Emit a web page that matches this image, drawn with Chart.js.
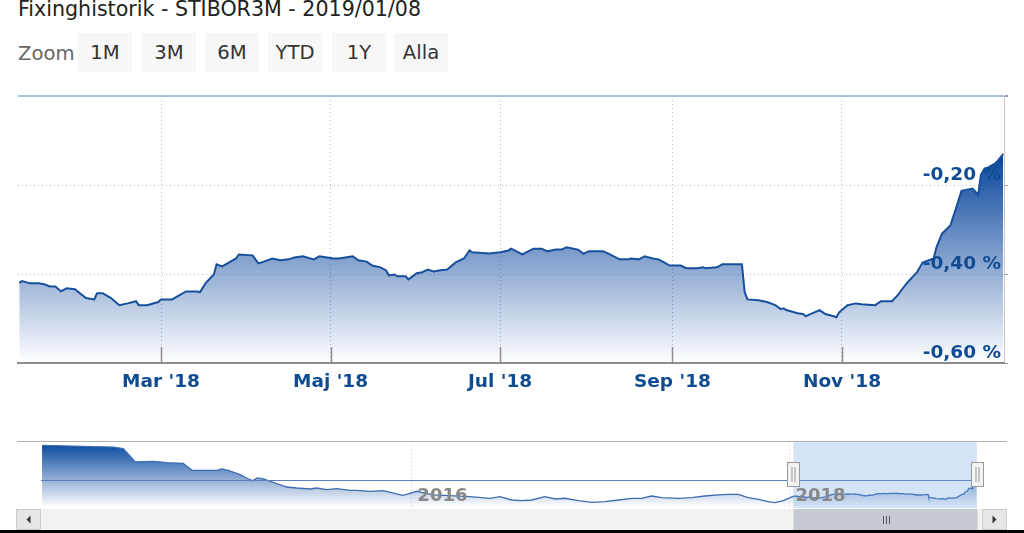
<!DOCTYPE html>
<html>
<head>
<meta charset="utf-8">
<script src="https://cdn.jsdelivr.net/npm/chart.js@4.4.1/dist/chart.umd.min.js"></script>
<style>
  html, body { margin: 0; padding: 0; background: #fff; width: 1024px; height: 533px; overflow: hidden; font-family: "DejaVu Sans", sans-serif; }
  #title { position: absolute; left: 18px; top: -3px; font-size: 20.6px; color: #222; white-space: nowrap; }
  #zoomlbl { position: absolute; left: 18px; top: 42px; font-size: 19.6px; color: #666; }
  .btn { position: absolute; top: 33px; width: 54px; height: 39px; line-height: 39px; text-align: center; background: #f7f7f7; color: #333; font-size: 19.6px; }
  #main { position: absolute; left: 0; top: 88px; }
  #nav { position: absolute; left: 0; top: 436px; }
  #edge { position: absolute; left: 0; top: 530px; width: 1024px; height: 3px; background: #000; }
</style>
</head>
<body>
<div id="title">Fixinghistorik - STIBOR3M - 2019/01/08</div>
<div id="zoomlbl">Zoom</div>
<div class="btn" style="left:78px">1M</div>
<div class="btn" style="left:142px">3M</div>
<div class="btn" style="left:205px">6M</div>
<div class="btn" style="left:268px">YTD</div>
<div class="btn" style="left:332px">1Y</div>
<div class="btn" style="left:394px">Alla</div>
<canvas id="main" width="1024" height="312"></canvas>
<canvas id="nav" width="1024" height="94"></canvas>
<div id="edge"></div>
<script>
// days are counted from 2018-01-01 (day 0)
var mainDays = [
  8, 9, 12, 15, 17, 19, 21, 23, 25, 28,
  32, 35, 36, 38, 41, 44, 47, 50, 51, 54,
  58, 59, 63, 68, 72, 73, 75, 78, 79, 81,
  84, 86, 87, 92, 94, 96, 99, 102, 105, 107,
  110, 114, 116, 121, 123, 128, 130, 133, 135, 138,
  140, 141, 143, 144, 147, 148, 150, 151, 153, 155,
  157, 159, 162, 165, 168, 170, 171, 177, 181, 184,
  185, 189, 193, 196, 198, 201, 203, 205, 209, 211,
  213, 218, 220, 224, 227, 228, 231, 233, 236, 238,
  240, 242, 246, 248, 252, 254, 255, 259, 261, 264,
  268, 269, 270, 274, 277, 280, 282, 283, 284, 288,
  290, 291, 292, 296, 298, 301, 302, 303, 306, 309,
  311, 316, 318, 322, 324, 327, 328, 331, 333, 337,
  338, 340, 343, 345, 347, 351, 352, 353, 354, 355,
  359, 360, 362
];
var mainRates = [
  -0.420, -0.416, -0.421, -0.421, -0.423, -0.428, -0.428, -0.439, -0.432, -0.434,
  -0.454, -0.457, -0.443, -0.443, -0.454, -0.470, -0.466, -0.461, -0.470, -0.470,
  -0.463, -0.457, -0.457, -0.439, -0.439, -0.441, -0.421, -0.401, -0.378, -0.383,
  -0.372, -0.365, -0.356, -0.358, -0.376, -0.372, -0.365, -0.369, -0.367, -0.363,
  -0.360, -0.367, -0.360, -0.365, -0.365, -0.360, -0.369, -0.372, -0.381, -0.385,
  -0.392, -0.403, -0.401, -0.405, -0.405, -0.412, -0.403, -0.398, -0.396, -0.390,
  -0.394, -0.392, -0.390, -0.374, -0.365, -0.347, -0.351, -0.354, -0.351, -0.347,
  -0.343, -0.356, -0.343, -0.343, -0.349, -0.345, -0.345, -0.340, -0.345, -0.354,
  -0.349, -0.349, -0.354, -0.367, -0.367, -0.365, -0.367, -0.360, -0.365, -0.367,
  -0.374, -0.381, -0.381, -0.387, -0.387, -0.385, -0.387, -0.385, -0.378, -0.378,
  -0.378, -0.441, -0.457, -0.459, -0.463, -0.470, -0.479, -0.477, -0.481, -0.488,
  -0.490, -0.495, -0.492, -0.481, -0.490, -0.495, -0.497, -0.486, -0.470, -0.466,
  -0.468, -0.470, -0.461, -0.461, -0.448, -0.423, -0.416, -0.396, -0.374, -0.365,
  -0.340, -0.309, -0.291, -0.253, -0.213, -0.208, -0.215, -0.222, -0.177, -0.166,
  -0.152, -0.146, -0.130
];
// older history, only in the navigator
var histDays = [
  -1445, -1307, -1288, -1275, -1265, -1230, -1204, -1172, -1165, -1155,
  -1107, -1098, -1085, -1062, -1046, -1038, -1029, -1017, -998, -972,
  -953, -927, -914, -895, -875, -850, -837, -811, -785, -760,
  -747, -737, -721, -689, -618, -579, -560, -537, -518, -498,
  -473, -453, -434, -408, -382, -357, -331, -305, -286, -267,
  -247, -215, -189, -164, -138, -118, -99, -80, -60, -41,
  -28, -12
];
var histRates = [
  0.922, 0.877, 0.833, 0.640, 0.482, 0.501, 0.464, 0.448, 0.369, 0.264,
  0.264, 0.298, 0.264, 0.148, 0.034, -0.011, 0.061, 0.034, -0.053, -0.177,
  -0.203, -0.229, -0.203, -0.248, -0.221, -0.264, -0.264, -0.290, -0.274, -0.361,
  -0.395, -0.361, -0.290, -0.387, -0.432, -0.474, -0.432, -0.519, -0.538, -0.519,
  -0.432, -0.493, -0.474, -0.538, -0.580, -0.564, -0.519, -0.474, -0.474, -0.414,
  -0.458, -0.474, -0.458, -0.414, -0.387, -0.369, -0.369, -0.458, -0.501, -0.564,
  -0.590, -0.538
];
var xTickDays = [59, 120, 181, 243, 304];
var xTickLabels = ["Mar '18", "Maj '18", "Jul '18", "Sep '18", "Nov '18"];
var yTickValues = [-0.6, -0.4, -0.2, 0];
var yTickLabels = ["-0,60 %", "-0,40 %", "-0,20 %", ""];
var navTickDays = [-731, 0];
var navTickLabels = ["2016", "2018"];
var viewMin = 7.55, viewMax = 362.3;
var navMin = -1447, navMax = 362.5;

Chart.defaults.font.family = "'DejaVu Sans', sans-serif";

function fillGradient(chart, values, rgb) {
  var ca = chart.chartArea;
  if (!ca) return "rgba(" + rgb + ",0.5)";
  var top = chart.scales.y.getPixelForValue(Math.max.apply(null, values));
  var g = chart.ctx.createLinearGradient(0, top, 0, ca.bottom);
  g.addColorStop(0, "rgba(" + rgb + ",1)");
  g.addColorStop(1, "rgba(" + rgb + ",0)");
  return g;
}

// short solid ticks inside the plot, at the bottom
var mainTicks = {
  id: "mainTicks",
  afterDatasetsDraw: function (chart) {
    var ctx = chart.ctx, ca = chart.chartArea, x = chart.scales.x;
    ctx.save();
    ctx.strokeStyle = "#8c8c8c";
    ctx.lineWidth = 1.5;
    xTickDays.forEach(function (d) {
      var px = Math.round(x.getPixelForValue(d)) + 0.5;
      ctx.beginPath();
      ctx.moveTo(px, ca.bottom - 16);
      ctx.lineTo(px, ca.bottom);
      ctx.stroke();
    });
    ctx.restore();
  }
};

var ctxMain = document.getElementById("main").getContext("2d");
var mainChart = new Chart(ctxMain, {
  type: "line",
  data: {
    datasets: [
      {
        data: mainDays.map(function (d, i) { return { x: d, y: mainRates[i] }; }),
        borderColor: "#174f9c",
        borderWidth: 2,
        pointRadius: 0,
        tension: 0,
        fill: "start",
        backgroundColor: function (c) { return fillGradient(c.chart, mainRates, "8,68,156"); },
      },
    ],
  },
  options: {
    responsive: false,
    animation: false,
    events: [],
    devicePixelRatio: 1,
    layout: { padding: { left: 18, right: 14, top: 1, bottom: 7 } },
    plugins: { legend: { display: false }, tooltip: { enabled: false } },
    scales: {
      x: {
        type: "linear",
        min: viewMin,
        max: viewMax,
        afterBuildTicks: function (s) { s.ticks = xTickDays.map(function (v) { return { value: v }; }); },
        afterFit: function (s) { s.height = 30; },
        grid: { color: "#a5b8d6", lineWidth: 1, drawTicks: false },
        border: { display: true, color: "#8c8c8c", width: 2, dash: [1, 3], z: 1 },
        ticks: {
          autoSkip: false,
          maxRotation: 0,
          padding: 8,
          color: "#0f4c92",
          font: { size: 18.5, weight: "bold" },
          callback: function (v) { return xTickLabels[xTickDays.indexOf(v)]; },
        },
      },
      y: {
        position: "right",
        min: -0.6,
        max: 0,
        afterBuildTicks: function (s) { s.ticks = yTickValues.map(function (v) { return { value: v }; }); },
        afterFit: function (s) { s.width = 6; },
        grid: {
          color: function (c) {
            if (c.tick.value === 0) return "#a9c0e0";
            if (c.tick.value === -0.6) return "rgba(0,0,0,0)";
            return "#a5b8d6";
          },
          lineWidth: function (c) { return c.tick.value === 0 ? 2 : 1; },
          tickColor: "#999",
          tickLength: 4,
          drawTicks: true,
        },
        border: {
          display: true,
          color: "#c4c4c4",
          width: 1,
          dash: function (c) { return c.tick && c.tick.value === 0 ? [] : [1, 3]; },
        },
        ticks: {
          mirror: true,
          padding: -3,
          labelOffset: -10,
          z: 1,
          color: "#0f4c92",
          font: { size: 18.5, weight: "bold" },
          callback: function (v) { return yTickLabels[yTickValues.indexOf(v)]; },
        },
      },
    },
  },
  plugins: [mainTicks],
});

// navigator: zero line, selected zone, handles, outline and scrollbar
var navDecor = {
  id: "navDecor",
  afterDatasetsDraw: function (chart) {
    var ctx = chart.ctx, ca = chart.chartArea, x = chart.scales.x, y = chart.scales.y;
    var y0 = Math.round(y.getPixelForValue(0)) + 0.5;
    ctx.save();
    ctx.strokeStyle = "#5b80bf";
    ctx.lineWidth = 1;
    ctx.beginPath();
    ctx.moveTo(ca.left, y0);
    ctx.lineTo(ca.right, y0);
    ctx.stroke();
    var x1 = x.getPixelForValue(viewMin), x2 = x.getPixelForValue(viewMax);
    ctx.fillStyle = "rgba(102,153,222,0.28)";
    ctx.fillRect(x1, ca.top, x2 - x1, ca.bottom + 1 - ca.top);
    ctx.restore();
  },
  afterDraw: function (chart) {
    var ctx = chart.ctx, ca = chart.chartArea, x = chart.scales.x;
    var x1 = Math.round(x.getPixelForValue(viewMin)) + 0.5;
    var x2 = Math.round(x.getPixelForValue(viewMax)) + 0.5;
    ctx.save();
    // outline
    ctx.strokeStyle = "#b0b0b0";
    ctx.lineWidth = 1;
    ctx.beginPath();
    ctx.moveTo(17, ca.top + 0.5);
    ctx.lineTo(1007, ca.top + 0.5);
    ctx.stroke();
    // scrollbar
    var sbTop = 73, sbH = 21;
    ctx.fillStyle = "#f2f2f2";
    ctx.fillRect(16, sbTop, 991, sbH);
    [16, 982].forEach(function (bx, i) {
      ctx.fillStyle = "#e6e6e6";
      ctx.fillRect(bx, sbTop, 25, sbH);
      ctx.strokeStyle = "#cccccc";
      ctx.strokeRect(bx + 0.5, sbTop + 0.5, 24, sbH - 1);
      ctx.fillStyle = "#333";
      ctx.beginPath();
      var cx = bx + 12.5, cy = sbTop + sbH / 2;
      if (i === 0) { ctx.moveTo(cx - 2, cy); ctx.lineTo(cx + 2, cy - 4); ctx.lineTo(cx + 2, cy + 4); }
      else { ctx.moveTo(cx + 2, cy); ctx.lineTo(cx - 2, cy - 4); ctx.lineTo(cx - 2, cy + 4); }
      ctx.closePath();
      ctx.fill();
    });
    ctx.fillStyle = "#c5cad2";
    ctx.fillRect(x1, sbTop, x2 - x1, sbH);
    ctx.strokeStyle = "#555";
    var mid = Math.round((x1 + x2) / 2) + 0.5;
    [-3, 0, 3].forEach(function (o) {
      ctx.beginPath();
      ctx.moveTo(mid + o, sbTop + 7);
      ctx.lineTo(mid + o, sbTop + 15);
      ctx.stroke();
    });
    // handles
    [x1, x2].forEach(function (hx) {
      ctx.fillStyle = "#f2f2f2";
      ctx.strokeStyle = "#999";
      ctx.fillRect(hx - 6, 26.5, 12, 24);
      ctx.strokeRect(hx - 6, 26.5, 12, 24);
      ctx.beginPath();
      ctx.moveTo(hx - 1.5, 31);
      ctx.lineTo(hx - 1.5, 46);
      ctx.moveTo(hx + 1.5, 31);
      ctx.lineTo(hx + 1.5, 46);
      ctx.stroke();
    });
    ctx.restore();
  }
};

var navDays = histDays.concat(mainDays);
var navRates = histRates.concat(mainRates);
var ctxNav = document.getElementById("nav").getContext("2d");
var navChart = new Chart(ctxNav, {
  type: "line",
  data: {
    datasets: [
      {
        data: navDays.map(function (d, i) { return { x: d, y: navRates[i] }; }),
        borderColor: "#3e6db0",
        borderWidth: 1.3,
        pointRadius: 0,
        tension: 0,
        fill: "start",
        backgroundColor: function (c) { return fillGradient(c.chart, navRates, "14,76,160"); },
      },
    ],
  },
  options: {
    responsive: false,
    animation: false,
    events: [],
    devicePixelRatio: 1,
    layout: { padding: { left: 41, right: 47, top: 5, bottom: 23 } },
    plugins: { legend: { display: false }, tooltip: { enabled: false } },
    scales: {
      x: {
        type: "linear",
        min: navMin,
        max: navMax,
        afterBuildTicks: function (s) { s.ticks = navTickDays.map(function (v) { return { value: v }; }); },
        afterFit: function (s) { s.height = 0; },
        grid: { color: "#e4e4e4", drawTicks: false },
        border: { display: false, dash: [2, 2] },
        ticks: {
          autoSkip: false,
          maxRotation: 0,
          mirror: true,
          align: "start",
          labelOffset: 6,
          padding: 0,
          z: 1,
          color: "#888",
          font: { size: 18, weight: "bold" },
          callback: function (v) { return navTickLabels[navTickDays.indexOf(v)]; },
        },
      },
      y: { display: false, min: -0.704, max: 1.036 },
    },
  },
  plugins: [navDecor],
});
</script>
</body>
</html>
